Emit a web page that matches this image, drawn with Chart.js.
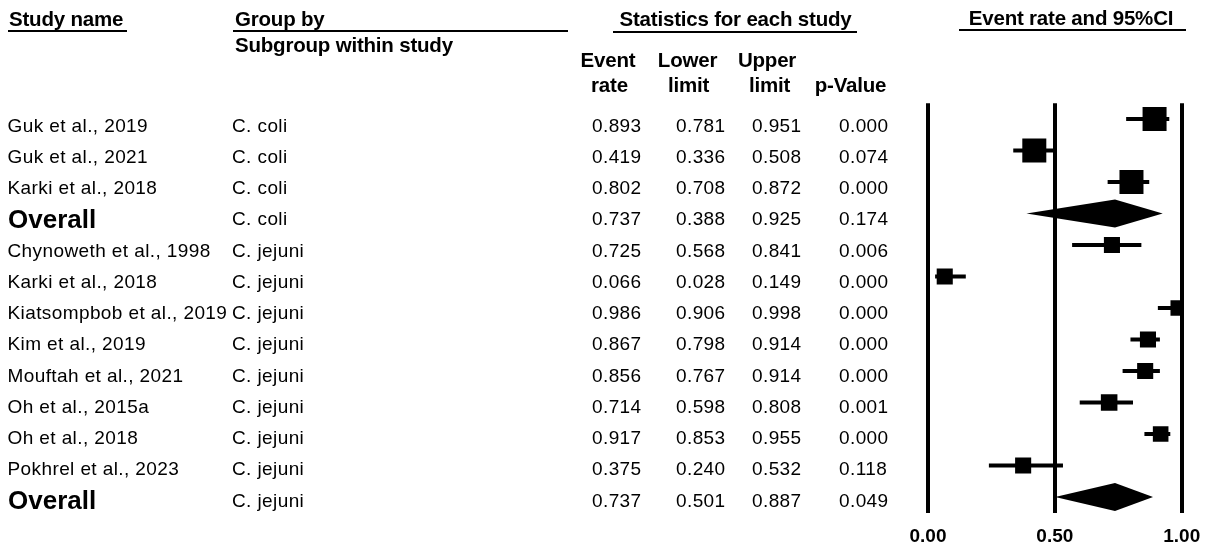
<!DOCTYPE html>
<html><head><meta charset="utf-8">
<script src="https://cdn.jsdelivr.net/npm/chart.js@4"></script>
<style>
html,body{margin:0;padding:0;background:#fff;}
#wrap{position:relative;width:1213px;height:551px;overflow:hidden;font-family:"Liberation Sans",Arial,sans-serif;color:#000;background:#fff;}
#c{position:absolute;left:0;top:0;}
.t{position:absolute;white-space:nowrap;line-height:1;}
.h{font-weight:bold;font-size:20.5px;letter-spacing:-0.2px;}
.d{font-size:19px;letter-spacing:0.4px;}
.o{font-weight:bold;font-size:26px;}
.c{transform:translateX(-50%);}
.u{position:absolute;height:2px;background:#000;}
</style></head>
<body><div id="wrap"><canvas id="c" width="1213" height="551"></canvas></div>
<script>
// ---- data ----
const studyNames = ["Guk et al., 2019","Guk et al., 2021","Karki et al., 2018","Overall","Chynoweth et al., 1998","Karki et al., 2018","Kiatsompbob et al., 2019","Kim et al., 2019","Mouftah et al., 2021","Oh et al., 2015a","Oh et al., 2018","Pokhrel et al., 2023","Overall"];
const subgroups = ["C. coli","C. coli","C. coli","C. coli","C. jejuni","C. jejuni","C. jejuni","C. jejuni","C. jejuni","C. jejuni","C. jejuni","C. jejuni","C. jejuni"];
const eventRate = [0.893,0.419,0.802,0.737,0.725,0.066,0.986,0.867,0.856,0.714,0.917,0.375,0.737];
const lowerLimit = [0.781,0.336,0.708,0.388,0.568,0.028,0.906,0.798,0.767,0.598,0.853,0.240,0.501];
const upperLimit = [0.951,0.508,0.872,0.925,0.841,0.149,0.998,0.914,0.914,0.808,0.955,0.532,0.887];
const pValues = [0.000,0.074,0.000,0.174,0.006,0.000,0.000,0.000,0.000,0.001,0.000,0.118,0.049];
const isOverall = [false,false,false,true,false,false,false,false,false,false,false,false,true];
const relWeight = [1.0,1.0,1.0,null,0.67,0.67,0.64,0.67,0.67,0.69,0.65,0.67,null];
const xTicks = [0, 0.5, 1];

// ---- table text (HTML) ----
const wrap = document.getElementById('wrap');
function addText(txt, cls, left, top){
  const d = document.createElement('div');
  d.className = 't ' + cls; d.textContent = txt;
  d.style.left = left + 'px'; d.style.top = top + 'px';
  wrap.appendChild(d); return d;
}
function addLine(left, top, width){
  const d = document.createElement('div');
  d.className = 'u'; d.style.left = left+'px'; d.style.top = top+'px'; d.style.width = width+'px';
  wrap.appendChild(d);
}
// headers (baseline - 17.35)
addText("Study name","h",9,8.6);
addText("Group by","h",235,8.6);
addText("Subgroup within study","h",235,34.6);
addText("Statistics for each study","h c",735.5,8.6);
addText("Event rate and 95%CI","h c",1071,7.6);
addText("Event","h c",608,49.6); addText("rate","h c",609.5,74.6);
addText("Lower","h c",687.5,49.6); addText("limit","h c",688.5,74.6);
addText("Upper","h c",767,49.6); addText("limit","h c",769.5,74.6);
addText("p-Value","h c",850.5,74.6);
addLine(8,30,119); addLine(233,30,335); addLine(613,31,244); addLine(959,29,227);

const numCols = [592,676,752,839];
studyNames.forEach((name,i)=>{
  const cy = 125 + 31.25*i;
  if (isOverall[i]) addText(name,"o",8,cy-12.7);
  else addText(name,"d",7.5,cy-9.28);
  addText(subgroups[i],"d",232,cy-9.28);
  [eventRate[i],lowerLimit[i],upperLimit[i],pValues[i]].forEach((v,k)=>{
    addText(v.toFixed(3),"d",numCols[k],cy-9.28);
  });
});

// ---- chart ----
const rows = studyNames.map((_,i)=>i);
const studyRows = rows.filter(i=>!isOverall[i]);
const ciDatasets = studyRows.map(i=>({
  type:'line',
  data:[{x:lowerLimit[i],y:i},{x:upperLimit[i],y:i}],
  borderColor:'#000', borderWidth:4, pointRadius:0, borderCapStyle:'butt', order:2
}));
const squareDataset = {
  type:'scatter',
  data: studyRows.map(i=>({x:eventRate[i], y:i, w:relWeight[i]})),
  pointStyle:'rect',
  pointRadius: ctx => (ctx.raw ? 24*ctx.raw.w/Math.SQRT2 : 0),
  backgroundColor:'#000', borderColor:'#000', borderWidth:0, order:1
};
const diamondPlugin = {
  id:'diamonds',
  afterDatasetsDraw(chart){
    const {ctx, scales:{x,y}} = chart;
    ctx.save(); ctx.fillStyle = '#000';
    rows.forEach(i=>{
      if(!isOverall[i]) return;
      const yc = y.getPixelForValue(i), h = 14;
      ctx.beginPath();
      ctx.moveTo(x.getPixelForValue(lowerLimit[i]), yc);
      ctx.lineTo(x.getPixelForValue(eventRate[i]), yc-h);
      ctx.lineTo(x.getPixelForValue(upperLimit[i]), yc);
      ctx.lineTo(x.getPixelForValue(eventRate[i]), yc+h);
      ctx.closePath(); ctx.fill();
    });
    ctx.restore();
  }
};

new Chart(document.getElementById('c'), {
  type:'scatter',
  data:{datasets:[...ciDatasets, squareDataset]},
  options:{
    responsive:false, animation:false, events:[],
    layout:{padding:{left:928, right:30, top:103.25, bottom:0}},
    plugins:{legend:{display:false}, tooltip:{enabled:false}},
    scales:{
      x:{
        type:'linear', min:0, max:1,
        afterBuildTicks: s => { s.ticks = xTicks.map(v=>({value:v})); },
        afterFit: s => { s.height = 38.25; },
        grid:{color:'#000', lineWidth:4, drawTicks:false},
        border:{display:false},
        ticks:{padding:12.8, color:'#000', maxRotation:0, autoSkip:false,
          font:{family:'"Liberation Sans", Arial, sans-serif', size:19, weight:'bold'},
          callback: v => Number(v).toFixed(2)}
      },
      y:{type:'linear', display:false, reverse:true, min:-0.5, max:12.5}
    }
  },
  plugins:[diamondPlugin]
});
</script>
</body></html>
